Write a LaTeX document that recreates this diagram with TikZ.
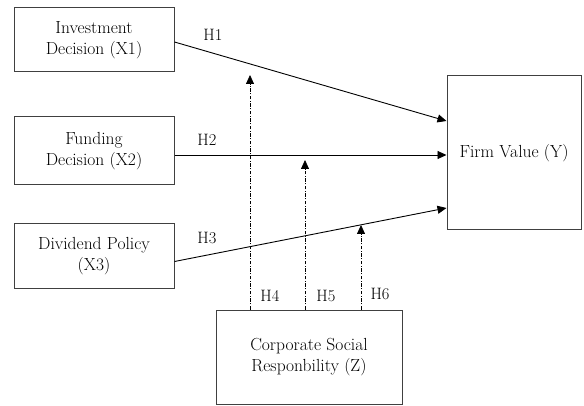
\documentclass[tikz,border=0pt]{standalone}
\usepackage{amsmath}
\usetikzlibrary{arrows.meta, calc}

\begin{document}
\begin{tikzpicture}[x=1pt, y=-1pt,
    varbox/.style={draw=black!75, line width=1pt, align=center, inner sep=2pt,
        font=\fontsize{17.5}{21}\selectfont},
    effect/.style={line width=0.9pt, -{Triangle[length=9pt, width=8pt]}},
    moderate/.style={line width=0.8pt, dash pattern=on 3.5pt off 1.5pt on 1pt off 1.5pt,
        -{Triangle[length=9pt, width=8pt]}},
    hyp/.style={font=\fontsize{16.5}{19}\selectfont}]
    \useasboundingbox (0,0) rectangle (584,406);

    % The independent variables
    \node[varbox, minimum width=160pt, minimum height=64pt] (X1) at (94,40) {Investment\\Decision (X1)};
    \node[varbox, minimum width=160pt, minimum height=68pt] (X2) at (94,151) {Funding\\Decision (X2)};
    \node[varbox, minimum width=160pt, minimum height=65pt] (X3) at (94,256.5) {Dividend Policy\\(X3)};

    % Dependent and moderating variables
    \node[varbox, minimum width=134pt, minimum height=154pt] (Y) at (514,153) {Firm Value (Y)};
    \node[varbox, minimum width=186pt, minimum height=94pt] (Z) at (309,357) {Corporate Social\\Responbility (Z)};

    % Direct effects
    \draw[effect] ([yshift=-2pt]X1.east) -- ([yshift=32pt]Y.west);
    \draw[effect] ([yshift=-4pt]X2.east) -- ([yshift=-2pt]Y.west);
    \draw[effect] ([yshift=-5pt]X3.east) -- ([yshift=-55pt]Y.west);
    \node[hyp] (h1) at (213,35) {H1};
    \node[hyp] (h2) at (207,140) {H2};
    \node[hyp] (h3) at (207,238) {H3};

    % Moderating effects
    \coordinate (t4) at (250,75);
    \coordinate (t5) at (305,160);
    \coordinate (t6) at (361,225);
    \draw[moderate] (Z.north -| t4) -- (t4);
    \draw[moderate] (Z.north -| t5) -- (t5);
    \draw[moderate] (Z.north -| t6) -- (t6);
    \node[hyp] (h4) at (270,296) {H4};
    \node[hyp] (h5) at (326,296) {H5};
    \node[hyp] (h6) at (380,294) {H6};
\end{tikzpicture}
\end{document}
